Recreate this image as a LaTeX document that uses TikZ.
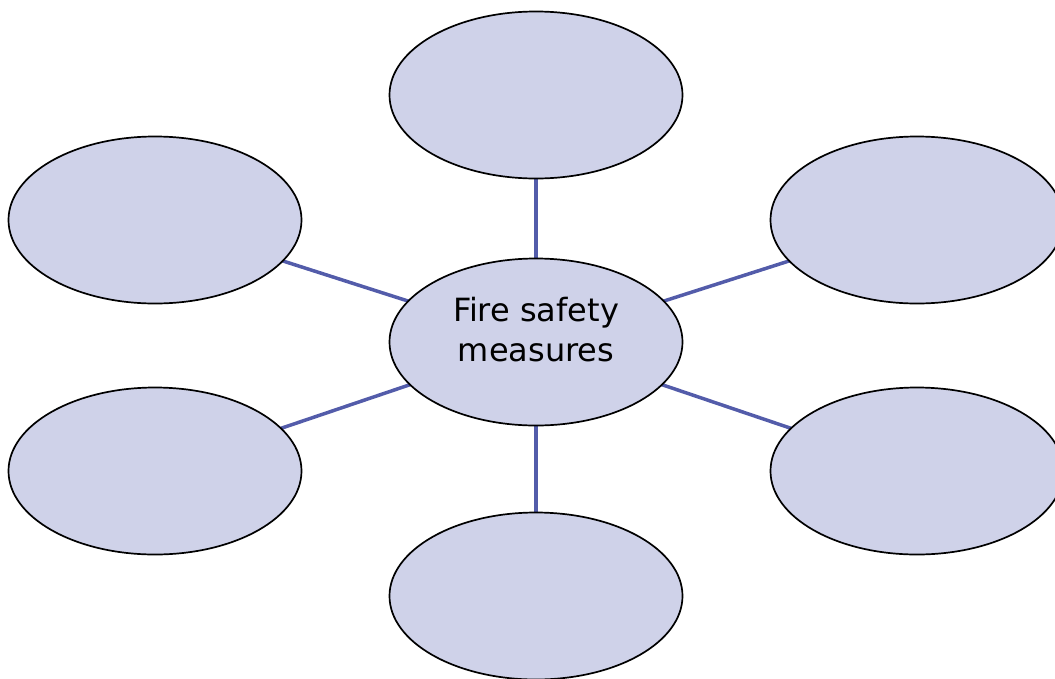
\documentclass[tikz,border=0pt]{standalone}
\usepackage{fontspec}
\setmainfont{DejaVu Sans}
\usetikzlibrary{shapes.geometric}
\definecolor{bubble}{RGB}{207,210,233}
\definecolor{spoke}{RGB}{83,92,170}
\tikzset{
  bub/.style={ellipse, draw=black, line width=1.7pt, fill=bubble, minimum width=293pt, minimum height=167pt, inner sep=0pt},
  lbl/.style={font=\fontsize{32}{40}\selectfont, align=center, inner sep=0pt},
  con/.style={draw=spoke, line width=3.5pt}
}
\begin{document}
\begin{tikzpicture}[x=1pt,y=-1pt]
\useasboundingbox (0,0) rectangle (1055,678);
\begin{scope}
\clip (0,0) rectangle (1055,678);
\coordinate (pc) at (536,342);
\coordinate (pt) at (536,95);
\coordinate (pb) at (536,596);
\coordinate (plu) at (155,220);
\coordinate (pll) at (155,471);
\coordinate (pru) at (917,220);
\coordinate (prl) at (917,471);
\draw[con] (pc) -- (pt);
\draw[con] (pc) -- (pb);
\draw[con] (pc) -- (plu);
\draw[con] (pc) -- (pll);
\draw[con] (pc) -- (pru);
\draw[con] (pc) -- (prl);
\node[bub] (top) at (pt) {};
\node[bub] (bot) at (pb) {};
\node[bub] (lu) at (plu) {};
\node[bub] (ll) at (pll) {};
\node[bub] (ru) at (pru) {};
\node[bub] (rl) at (prl) {};
\node[bub] (c) at (pc) {};
\node[lbl] (ct) at (536,330) {Fire safety\\measures};
\end{scope}
\end{tikzpicture}
\end{document}
